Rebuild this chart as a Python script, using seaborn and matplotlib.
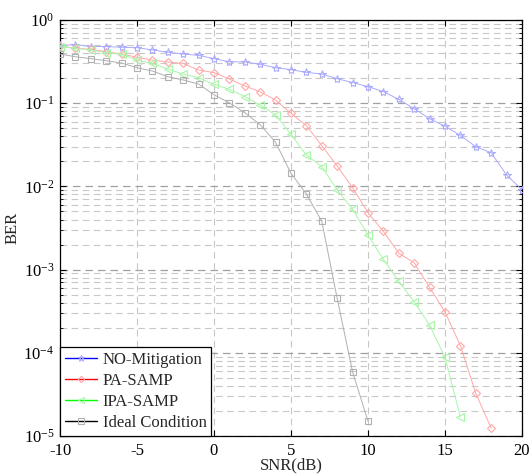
import numpy as np
import pandas as pd
import matplotlib
matplotlib.use("Agg")
import matplotlib.pyplot as plt
from matplotlib.lines import Line2D
from matplotlib.ticker import LogLocator
import seaborn as sns

snr_no = list(range(-10, 21))
ber_no = [0.497, 0.505, 0.48, 0.48, 0.47, 0.465, 0.436, 0.41, 0.39, 0.376,
          0.343, 0.315, 0.313, 0.293, 0.267, 0.253, 0.235, 0.224, 0.197, 0.177,
          0.158, 0.138, 0.111, 0.086, 0.065, 0.053, 0.041, 0.030, 0.0254, 0.0137,
          0.0091]

snr_pa = list(range(-10, 19))
ber_pa = [0.49, 0.457, 0.444, 0.416, 0.39, 0.356, 0.33, 0.313, 0.30, 0.25,
          0.233, 0.195, 0.161, 0.137, 0.109, 0.0756, 0.0537, 0.0309, 0.0176, 0.00966,
          0.00483, 0.00288, 0.00157, 0.00121, 6.1e-4, 3.1e-4, 1.22e-4, 3.26e-5, 1.24e-5]

snr_ipa = list(range(-10, 17))
ber_ipa = [0.478, 0.457, 0.436, 0.405, 0.387, 0.33, 0.30, 0.257, 0.224, 0.203,
           0.169, 0.147, 0.12, 0.095, 0.072, 0.0423, 0.0238, 0.0173, 0.00906, 0.0053,
           0.0026, 0.00133, 7.2e-4, 4.1e-4, 2.16e-4, 8.8e-5, 1.7e-5]

snr_ideal = list(range(-10, 11))
ber_ideal = [0.39, 0.362, 0.343, 0.324, 0.304, 0.267, 0.244, 0.208, 0.19, 0.170,
             0.126, 0.101, 0.077, 0.055, 0.0339, 0.01436, 0.0081, 0.0038, 4.5e-4, 5.9e-5,
             1.51e-5]

labels = ["NO-Mitigation", "PA-SAMP", "IPA-SAMP", "Ideal Condition"]

df = pd.concat([
    pd.DataFrame({"SNR": snr_no, "BER": ber_no, "method": labels[0]}),
    pd.DataFrame({"SNR": snr_pa, "BER": ber_pa, "method": labels[1]}),
    pd.DataFrame({"SNR": snr_ipa, "BER": ber_ipa, "method": labels[2]}),
    pd.DataFrame({"SNR": snr_ideal, "BER": ber_ideal, "method": labels[3]}),
], ignore_index=True)

sns.set_style("ticks")
plt.rcParams['font.family'] = ['Liberation Serif', 'DejaVu Serif']
plt.rcParams['mathtext.fontset'] = 'custom'
plt.rcParams['mathtext.rm'] = 'Liberation Serif'
plt.rcParams['mathtext.it'] = 'Liberation Serif:italic'
plt.rcParams['mathtext.bf'] = 'Liberation Serif:bold'
plt.rcParams['axes.unicode_minus'] = False

light = {labels[0]: "#aaaaff", labels[1]: "#ffa8a8", labels[2]: "#a8f5a8", labels[3]: "#b0b0b0"}
dark = {labels[0]: "#0000ff", labels[1]: "#ff0000", labels[2]: "#00ff00", labels[3]: "#000000"}
mk = {labels[0]: "*", labels[1]: "D", labels[2]: "<", labels[3]: "s"}
msz = {labels[0]: 6, labels[1]: 4.2, labels[2]: 5.5, labels[3]: 5}

fig = plt.figure(figsize=(5.31, 4.76), dpi=100)
ax = fig.add_axes([0.113, 0.084, 0.870, 0.874])

for lab in labels:
    sub = df[df["method"] == lab]
    sns.lineplot(data=sub, x="SNR", y="BER", ax=ax, color=light[lab], lw=0.7,
                 marker=mk[lab], markersize=msz[lab], markerfacecolor="none",
                 markeredgecolor=light[lab], markeredgewidth=0.8, legend=False,
                 zorder=3)

ax.set_yscale("log")
ax.set_xlim(-10, 20)
ax.set_ylim(1e-5, 1)
ax.set_xticks([-10, -5, 0, 5, 10, 15, 20])
ax.yaxis.set_major_locator(LogLocator(base=10, numticks=10))
ax.yaxis.set_minor_locator(LogLocator(base=10, subs=np.arange(2, 10), numticks=10))

ax.grid(True, which="major", axis="y", ls=(0, (6, 4)), color="#a0a0a0", lw=0.9)
ax.grid(True, which="minor", axis="y", ls=(0, (6, 4)), color="#c8c8c8", lw=0.8)
ax.grid(True, which="major", axis="x", ls=(0, (6, 4)), color="#c8c8c8", lw=0.8)

ax.tick_params(which="both", direction="in", top=True, right=True, labelsize=12, colors="black")
ax.tick_params(which="major", length=4, width=0.8)
ax.tick_params(which="minor", length=2, width=0.6)
ax.tick_params(axis="x", which="major", pad=5)
ax.tick_params(axis="y", which="major", pad=4)
for s in ax.spines.values():
    s.set_color("black")
    s.set_linewidth(0.9)

ax.set_xlabel("SNR(dB)", fontsize=12, labelpad=-1)
ax.set_ylabel("BER", fontsize=12, labelpad=2)

handles = [Line2D([0], [0], color=dark[l], lw=1.0, marker=mk[l], markersize=msz[l] - 1,
                  markerfacecolor="none", markeredgecolor=light[l], markeredgewidth=0.8)
           for l in labels]
leg = ax.legend(handles, labels, loc="lower left", borderaxespad=0, fontsize=12,
                frameon=True, fancybox=False, edgecolor="black", framealpha=1,
                handlelength=1.9, handletextpad=0.35, labelspacing=0.3, borderpad=0.3)
leg.get_frame().set_linewidth(0.9)
leg.set_zorder(5)

fig.savefig("out.png", dpi=100)
